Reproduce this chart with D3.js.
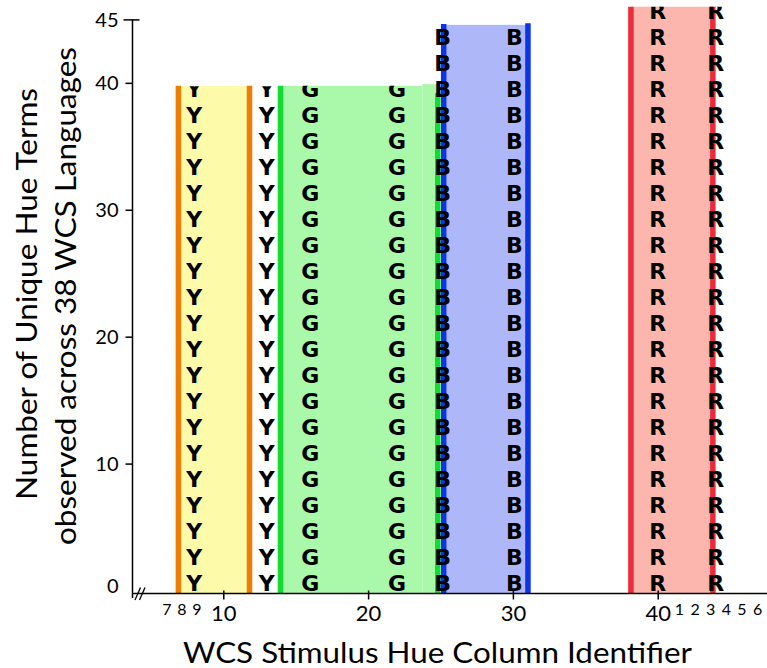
<!DOCTYPE html>
<html>
<head>
<meta charset="utf-8">
<script src="https://cdn.jsdelivr.net/npm/d3@7"></script>
<style>
  body { margin: 0; background: #fff; }
  .axis-text { font-family: 'Gill Sans', Lato, sans-serif; fill: #000; }
</style>
</head>
<body>
<div id="chart"></div>
<script>
// hue bands (x in WCS column ids, top in number of unique terms)
const fillSegments = [
  { band: 'yellow', x0: 6.9, x1: 11.81, top: 39.75 },
  { band: 'green', x0: 13.95, x1: 23.75, top: 39.77 },
  { band: 'green', x0: 23.75, x1: 24.81, top: 39.9 },
  { band: 'blue', x0: 25.22, x1: 31.04, top: 44.57 },
  { band: 'red', x0: 38.15, x1: 43.81, top: 46.0 },
];

// boundary lines of each band
const edgeLines = [
  { band: 'yellow', at: 6.9, top: 39.77 },
  { band: 'yellow', at: 11.81, top: 39.77 },
  { band: 'green', at: 13.95, top: 39.77 },
  { band: 'green', at: 24.81, top: 39.2 },
  { band: 'blue', at: 25.22, top: 44.63 },
  { band: 'blue', at: 31.04, top: 44.7 },
  { band: 'red', at: 38.15, top: 46.0 },
  { band: 'red', at: 43.81, top: 46.0 },
];

// letter columns (stacked hue term letters)
const letterColumns = [
  { letter: 'Y', at: 8, top: 39.74 },
  { letter: 'Y', at: 13, top: 39.74 },
  { letter: 'G', at: 16, top: 39.77 },
  { letter: 'G', at: 22, top: 39.77 },
  { letter: 'B', at: 25.15, top: 44.57 },
  { letter: 'B', at: 30.1, top: 44.57 },
  { letter: 'R', at: 40, top: 46.0 },
  { letter: 'R', at: 44, top: 46.0 },
];

const yTicks = [0, 10, 20, 30, 40, 45];
const xTicks = [10, 20, 30, 40];
const leftHueLabels = ['7', '8', '9'];
const rightHueLabels = ['1', '2', '3', '4', '5', '6'];

const fillColour = { yellow: '#fdfaa9', green: '#aaf9aa', blue: '#aeb8f9', red: '#fdb6ad' };
const lineColour = { yellow: '#ee7d05', green: '#12dc30', blue: '#0b33e8', red: '#ec2a3c' };

const width = 767;
const height = 668;
const rowStep = 26;

const svg = d3.select('#chart').append('svg')
  .attr('width', width)
  .attr('height', height);

const x = d3.scaleLinear().domain([10, 40]).range([223.3, 657.7]);
const y = d3.scaleLinear().domain([0, 45]).range([590.5, 19.4]);

const axisX = 132.5;
const axisY = y(0) + 3;

// Band fills
svg.append('g')
  .selectAll('rect')
  .data(fillSegments)
  .join('rect')
  .attr('x', (d) => x(d.x0))
  .attr('y', (d) => y(d.top))
  .attr('width', (d) => x(d.x1) - x(d.x0))
  .attr('height', (d) => axisY - y(d.top))
  .attr('fill', (d) => fillColour[d.band]);

// Band edges
svg.append('g')
  .selectAll('line')
  .data(edgeLines)
  .join('line')
  .attr('x1', (d) => x(d.at))
  .attr('x2', (d) => x(d.at))
  .attr('y1', (d) => y(d.top))
  .attr('y2', axisY)
  .attr('stroke', (d) => lineColour[d.band])
  .attr('stroke-width', 5.5);

// Letters, clipped at the height of their column
const defs = svg.append('defs');
defs.selectAll('clipPath')
  .data(letterColumns)
  .join('clipPath')
  .attr('id', (d, i) => `clip-col-${i}`)
  .append('rect')
  .attr('x', (d) => x(d.at) - 20)
  .attr('y', (d) => y(d.top))
  .attr('width', 40)
  .attr('height', (d) => axisY - y(d.top));

const cols = svg.append('g')
  .selectAll('g')
  .data(letterColumns)
  .join('g')
  .attr('clip-path', (d, i) => `url(#clip-col-${i})`);

cols.selectAll('text')
  .data((d) => {
    const n = Math.ceil((y(0) - y(d.top)) / rowStep) + 1;
    return d3.range(n).map((i) => ({ letter: d.letter, at: d.at, row: i }));
  })
  .join('text')
  .attr('font-family', "'DejaVu Sans', Verdana, sans-serif")
  .attr('font-weight', 'bold')
  .attr('font-size', 22)
  .attr('fill', '#000')
  .attr('text-anchor', 'middle')
  .attr('x', (d) => x(d.at))
  .attr('y', (d) => y(0) + 0.8 - d.row * rowStep)
  .text((d) => d.letter);

// Y axis
const yAxis = svg.append('g')
  .attr('transform', `translate(${axisX},0)`)
  .call(d3.axisLeft(y).tickValues(yTicks).tickSize(7).tickPadding(8).tickSizeOuter(0));
yAxis.select('.domain').remove();
yAxis.selectAll('.tick line')
  .attr('stroke', '#000')
  .attr('stroke-width', 1.5)
  .attr('x2', (d) => (d === 45 ? -9 : -7))
  .attr('x1', (d) => (d === 45 ? 7 : 0))
  .attr('display', (d) => (d === 0 ? 'none' : null));
yAxis.selectAll('.tick text')
  .attr('class', 'axis-text')
  .attr('font-size', 20)
  .attr('x', -14)
  .attr('dy', (d) => (d === 0 ? '0.1em' : '0.35em'));
yAxis.append('line')
  .attr('x1', 0).attr('x2', 0)
  .attr('y1', y(45)).attr('y2', axisY + 4.5)
  .attr('stroke', '#000')
  .attr('stroke-width', 1.5);

// X axis
const xAxis = svg.append('g')
  .attr('transform', `translate(0,${axisY})`)
  .call(d3.axisBottom(x).tickValues(xTicks).tickSize(6).tickSizeOuter(0));
xAxis.select('.domain').remove();
xAxis.selectAll('.tick line')
  .attr('stroke', '#000')
  .attr('stroke-width', 1.5)
  .attr('y1', -3);
xAxis.selectAll('.tick text')
  .attr('class', 'axis-text')
  .attr('font-size', 22)
  .attr('y', 20)
  .attr('dy', '0.35em');
xAxis.append('line')
  .attr('x1', axisX).attr('x2', width)
  .attr('y1', 0).attr('y2', 0)
  .attr('stroke', '#000')
  .attr('stroke-width', 1.5);

// axis break marks
xAxis.selectAll('.break')
  .data([0, 4.5])
  .join('line')
  .attr('class', 'break')
  .attr('x1', (d) => axisX + 2.5 + d)
  .attr('y1', 6.5)
  .attr('x2', (d) => axisX + 8 + d)
  .attr('y2', -6)
  .attr('stroke', '#000')
  .attr('stroke-width', 1.3);

// small wrapped hue column labels either side of the major ticks
const leftScale = d3.scalePoint().domain(leftHueLabels).range([x(6.1), x(8.17)]);
const rightScale = d3.scalePoint().domain(rightHueLabels).range([x(41.5), x(46.9)]);
svg.append('g')
  .selectAll('text')
  .data(leftHueLabels.map((l) => ({ l, px: leftScale(l) }))
    .concat(rightHueLabels.map((l) => ({ l, px: rightScale(l) }))))
  .join('text')
  .attr('class', 'axis-text')
  .attr('font-size', 16)
  .attr('text-anchor', 'middle')
  .attr('x', (d) => d.px)
  .attr('y', axisY + 16)
  .attr('dy', '0.35em')
  .text((d) => d.l);

// Axis titles
svg.append('text')
  .attr('class', 'axis-text')
  .attr('font-size', 28)
  .attr('text-anchor', 'middle')
  .attr('x', 437.5)
  .attr('y', 663)
  .attr('textLength', 509)
  .attr('lengthAdjust', 'spacingAndGlyphs')
  .text('WCS Stimulus Hue Column Identifier');

const yTitle = [
  { text: 'Number of Unique Hue Terms', bx: 37, cy: 294, len: 412 },
  { text: 'observed across 38 WCS Languages', bx: 76, cy: 296, len: 498 },
];
svg.append('g')
  .selectAll('text')
  .data(yTitle)
  .join('text')
  .attr('class', 'axis-text')
  .attr('font-size', 29)
  .attr('text-anchor', 'middle')
  .attr('transform', (d) => `translate(${d.bx},${d.cy}) rotate(-90)`)
  .attr('textLength', (d) => d.len)
  .attr('lengthAdjust', 'spacingAndGlyphs')
  .text((d) => d.text);
</script>
</body>
</html>
